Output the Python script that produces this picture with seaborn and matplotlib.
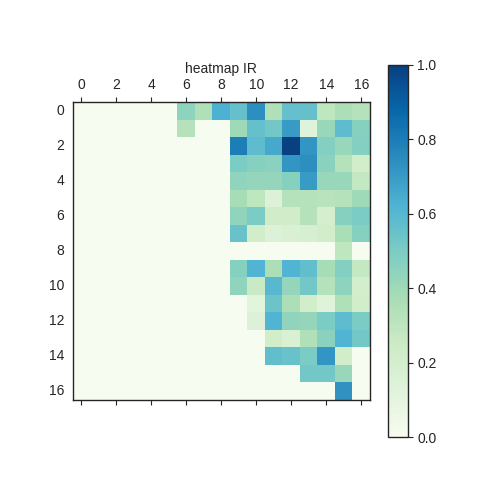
import numpy as np
import seaborn as sns
import matplotlib
matplotlib.use("Agg")
import matplotlib.pyplot as plt

# IR heatmap values, rows 0..16 (top to bottom), columns 0..16
ir_values = [
    [0, 0, 0, 0, 0, 0, 0.45, 0.35, 0.63, 0.56, 0.74, 0.35, 0.56, 0.56, 0.30, 0.36, 0.33],
    [0, 0, 0, 0, 0, 0, 0.33, 0, 0, 0.40, 0.56, 0.52, 0.70, 0.13, 0.42, 0.58, 0.47],
    [0, 0, 0, 0, 0, 0, 0, 0, 0, 0.80, 0.58, 0.66, 1.00, 0.72, 0.48, 0.42, 0.48],
    [0, 0, 0, 0, 0, 0, 0, 0, 0, 0.50, 0.47, 0.46, 0.72, 0.74, 0.46, 0.33, 0.22],
    [0, 0, 0, 0, 0, 0, 0, 0, 0, 0.44, 0.43, 0.43, 0.47, 0.70, 0.42, 0.42, 0.28],
    [0, 0, 0, 0, 0, 0, 0, 0, 0, 0.38, 0.30, 0.15, 0.33, 0.33, 0.32, 0.33, 0.40],
    [0, 0, 0, 0, 0, 0, 0, 0, 0, 0.44, 0.50, 0.23, 0.23, 0.33, 0.20, 0.47, 0.50],
    [0, 0, 0, 0, 0, 0, 0, 0, 0, 0.55, 0.22, 0.15, 0.17, 0.18, 0.22, 0.37, 0.47],
    [0, 0, 0, 0, 0, 0, 0, 0, 0, 0, 0, 0, 0, 0, 0, 0.30, 0],
    [0, 0, 0, 0, 0, 0, 0, 0, 0, 0.47, 0.62, 0.36, 0.62, 0.57, 0.38, 0.48, 0.28],
    [0, 0, 0, 0, 0, 0, 0, 0, 0, 0.44, 0.26, 0.60, 0.43, 0.52, 0.33, 0.45, 0.21],
    [0, 0, 0, 0, 0, 0, 0, 0, 0, 0, 0.12, 0.54, 0.36, 0.22, 0.13, 0.35, 0.22],
    [0, 0, 0, 0, 0, 0, 0, 0, 0, 0, 0.15, 0.62, 0.44, 0.43, 0.50, 0.58, 0.50],
    [0, 0, 0, 0, 0, 0, 0, 0, 0, 0, 0, 0.22, 0.17, 0.35, 0.46, 0.62, 0.52],
    [0, 0, 0, 0, 0, 0, 0, 0, 0, 0, 0, 0.57, 0.55, 0.50, 0.72, 0.22, 0],
    [0, 0, 0, 0, 0, 0, 0, 0, 0, 0, 0, 0, 0, 0.52, 0.52, 0.42, 0],
    [0, 0, 0, 0, 0, 0, 0, 0, 0, 0, 0, 0, 0, 0, 0, 0.73, 0],
]
tick_pos = [0, 2, 4, 6, 8, 10, 12, 14, 16]
tick_labels = ["0", "2", "4", "6", "8", "10", "12", "14", "16"]
cbar_ticks = [0.0, 0.2, 0.4, 0.6, 0.8, 1.0]

sns.set_style("ticks")
plt.rcParams["font.family"] = ["Liberation Sans", "DejaVu Sans"]
dark = "#262626"

fig = plt.figure(figsize=(4.8, 4.8), dpi=100)
ax = fig.add_axes([72.5 / 480, 80 / 480, 297.5 / 480, 298 / 480])
cax = fig.add_axes([388.3 / 480, 42.7 / 480, 19.4 / 480, 372.3 / 480])

data = np.array(ir_values)
sns.heatmap(data, ax=ax, cbar_ax=cax, cmap="GnBu", vmin=0, vmax=1,
            square=False, cbar_kws={"ticks": cbar_ticks})

# matshow-like ticks: labels on top, bare ticks at the bottom
ax.set_xticks(np.array(tick_pos) + 0.5)
ax.set_xticklabels(tick_labels, rotation=0)
ax.set_yticks(np.array(tick_pos) + 0.5)
ax.set_yticklabels(tick_labels, rotation=0)
ax.tick_params(axis="x", top=True, bottom=True, labeltop=True, labelbottom=False,
               length=3.5, width=0.8, colors=dark, labelsize=10)
ax.tick_params(axis="y", left=True, length=0, colors=dark, labelsize=10, pad=6)
for sp in ax.spines.values():
    sp.set_visible(True)
    sp.set_color(dark)
    sp.set_linewidth(1.0)
ax.set_title("heatmap IR", fontsize=10, color=dark, pad=4)

cb = ax.collections[0].colorbar
cb.outline.set_linewidth(1.0)
cb.outline.set_edgecolor(dark)
cb.ax.set_yticklabels([f"{t:.1f}" for t in cbar_ticks])
cax.tick_params(length=3.5, width=0.8, colors=dark, labelsize=10)

fig.savefig("out.png", dpi=100)
